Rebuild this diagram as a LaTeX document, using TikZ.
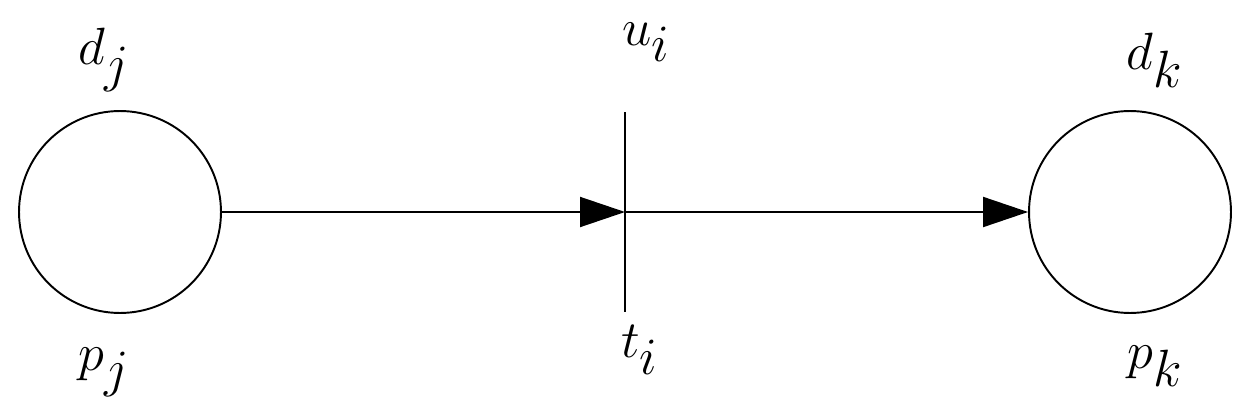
\documentclass[tikz,border=0pt]{standalone}
\usetikzlibrary{arrows.meta}
\begin{document}
\begin{tikzpicture}[x=0.02cm,y=-0.02cm,line width=1.1pt,
  place/.style={circle,draw,minimum size=4.04cm,inner sep=0pt},
  lbl/.style={font=\fontsize{33}{40}\selectfont},
  arc/.style={-{Triangle[length=0.9cm,width=0.6cm]}}]
\useasboundingbox (0,0) rectangle (1247,419);
\node[place] (pj) at (120,212) {};
\node[place] (pk) at (1130,212) {};
\coordinate (ttop) at (625,112);
\coordinate (tbot) at (625,312);
\coordinate (tc) at (625,212);
\draw (ttop) -- (tbot);
\draw[arc] (pj.east) -- (tc);
\draw[arc] (tc) -- (pk.west);
\node[lbl] (dj) at (104,60) {\scalebox{1.2}{$d_j$}};
\node[lbl] (pjl) at (104,372) {\scalebox{1.2}{$p_j$}};
\node[lbl] (ui) at (646,42) {\scalebox{1.2}{$u_i$}};
\node[lbl] (ti) at (640,350) {\scalebox{1.2}{$t_i$}};
\node[lbl] (dk) at (1155,60) {\scalebox{1.2}{$d_k$}};
\node[lbl] (pkl) at (1155,366) {\scalebox{1.2}{$p_k$}};
\end{tikzpicture}
\end{document}
